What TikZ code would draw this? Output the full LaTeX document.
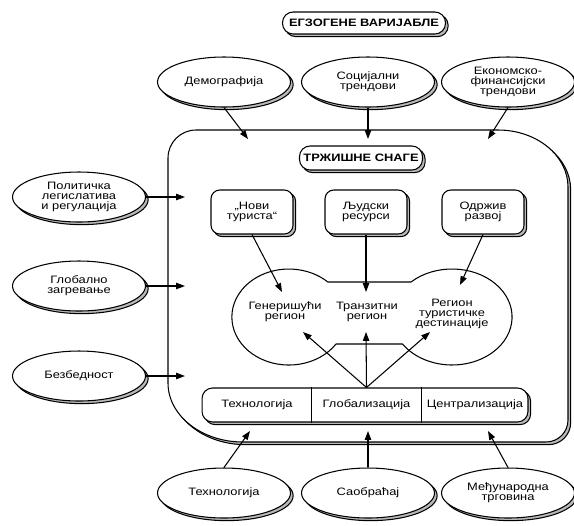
\documentclass[tikz,border=0pt]{standalone}
\usepackage{fontspec}
\setmainfont[FakeStretch=1.2]{Liberation Sans}
\usetikzlibrary{shapes.geometric,shadows,arrows.meta}
\newcommand{\sitno}{\fontsize{6.1}{5.8}\selectfont}

\tikzset{
	sjena/.style={copy shadow={shadow xshift=1.5pt, shadow yshift=-1.5pt, fill=gray!55}},
	faktor/.style={ellipse, draw, fill=white, sjena, minimum width=2.66cm, minimum height=1cm, inner sep=0pt, align=center},
	snaga/.style={rectangle, rounded corners=5pt, draw, fill=white, sjena, minimum width=1.64cm, minimum height=0.88cm, inner sep=0pt, align=center},
	naslov/.style={rectangle, rounded corners=6pt, draw, fill=white, sjena, font=\sitno\bfseries, inner sep=0pt},
	tekst/.style={align=center, inner sep=0pt}
}

\begin{document}
\begin{tikzpicture}[x=0.02cm, y=-0.02cm, line width=0.6pt, >={Triangle[length=5pt,width=3.6pt]}, font=\sitno]
	\useasboundingbox (0,0) rectangle (574,525);

	\draw[sjena, fill=white] (196,130) -- (498,130)
		arc[start angle=270, end angle=360, x radius=70, y radius=57] -- (568,420)
		arc[start angle=0, end angle=90, radius=22] -- (243,442)
		arc[start angle=90, end angle=180, x radius=75, y radius=59] -- (168,158)
		arc[start angle=180, end angle=270, radius=28] -- cycle;

	\node[naslov, minimum width=3.26cm, minimum height=0.44cm] (egzo) at (364,23) {ЕГЗОГЕНЕ ВАРИЈАБЛЕ};

	\node[faktor] (demo) at (224,82) {Демографија};
	\node[faktor] (soc) at (368,82) {Социјални\\трендови};
	\node[faktor] (ekon) at (508,82) {Економско-\\финансијски\\трендови};
	\node[faktor] (pol) at (79,197) {Политичка\\легислатива\\и регулација};
	\node[faktor] (klima) at (79,286) {Глобално\\загревање};
	\node[faktor] (bezb) at (79,376) {Безбедност};
	\node[faktor] (teh) at (224,493) {Технологија};
	\node[faktor] (saob) at (368,493) {Саобраћај};
	\node[faktor] (trg) at (508,493) {Међународна\\трговина};

	\coordinate (demoul) at (248,139);
	\coordinate (socul) at (368,139);
	\coordinate (ekonul) at (488,139);
	\coordinate (polul) at (185,197);
	\coordinate (klimaul) at (185,286);
	\coordinate (bezbul) at (185,376);
	\coordinate (tehul) at (250,431);
	\coordinate (saobul) at (368,431);
	\coordinate (trgul) at (488,431);

	\draw[->] (demo.south) -- (demoul);
	\draw[->] (soc.south) -- (socul);
	\draw[->] (ekon.south) -- (ekonul);
	\draw[->] (pol.east) -- (polul);
	\draw[->] (klima.east) -- (klimaul);
	\draw[->] (bezb.east) -- (bezbul);
	\draw[->] (teh.north) -- (tehul);
	\draw[->] (saob.north) -- (saobul);
	\draw[->] (trg.north) -- (trgul);

	\node[naslov, minimum width=2.46cm, minimum height=0.48cm] (trziste) at (361,158) {ТРЖИШНЕ СНАГЕ};

	\node[snaga] (novi) at (252,212) {„Нови\\туриста“};
	\node[snaga] (ljudi) at (366,212) {Људски\\ресурси};
	\node[snaga] (odrziv) at (483,212) {Одржив\\развој};

	\draw (328,282) -- (411,282)
		arc[start angle=226.8, end angle=505.8, x radius=60, y radius=48] -- (336,344)
		arc[start angle=34.2, end angle=313.2, x radius=57, y radius=48] -- cycle;
	\node[tekst] (gen) at (285,312) {Генеришући\\регион};
	\node[tekst] (tranz) at (367,312) {Транзитни\\регион};
	\node[tekst] (dest) at (452,314) {Регион\\туристичке\\дестинације};

	\coordinate (genul) at (282,292);
	\coordinate (tranzul) at (366,292);
	\coordinate (destul) at (460,285);
	\coordinate (genizl) at (303,332);
	\coordinate (tranzizl) at (366,332);
	\coordinate (destizl) at (430,332);

	\draw[->] (novi.south) -- (genul);
	\draw[->] (ljudi.south) -- (tranzul);
	\draw[->] (odrziv.south) -- (destul);

	\node[snaga, rounded corners=6pt, minimum width=6.52cm, minimum height=0.68cm] (traka) at (365,405) {};
	\node[tekst, minimum width=2.18cm, minimum height=0.68cm] (globl) at (366.5,405) {Глобализација};
	\node[tekst] (tehnol) at (257,405) {Технологија};
	\node[tekst] (centr) at (475,405) {Централизација};
	\draw (globl.north west) -- (globl.south west);
	\draw (globl.north east) -- (globl.south east);

	\draw[->] (globl.north) -- (genizl);
	\draw[->] (globl.north) -- (tranzizl);
	\draw[->] (globl.north) -- (destizl);
\end{tikzpicture}
\end{document}
